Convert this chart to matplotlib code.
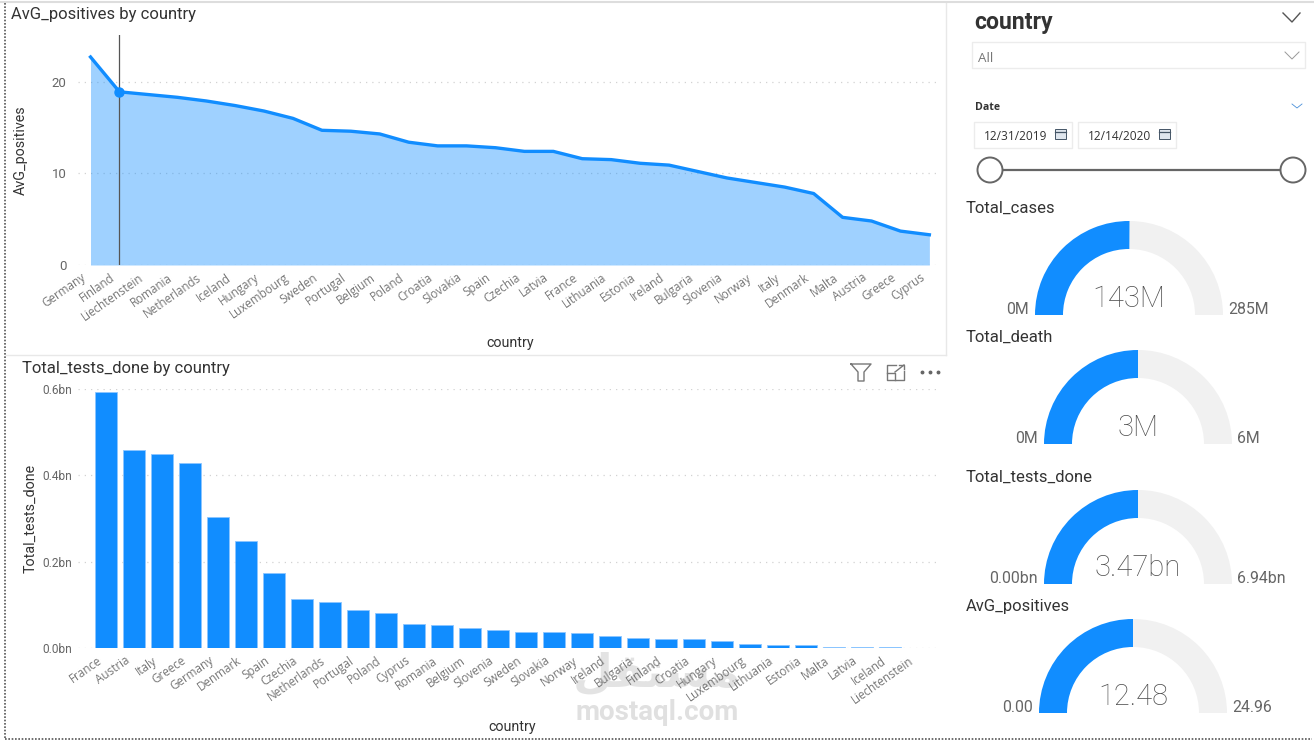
import matplotlib
matplotlib.use('Agg')
import matplotlib.pyplot as plt
from matplotlib.patches import Wedge, Circle, Rectangle
from matplotlib.ticker import FuncFormatter
from matplotlib.transforms import ScaledTranslation

plt.rcParams['font.family'] = ['Roboto', 'DejaVu Sans']

# data
area_countries = ['Germany', 'Finland', 'Liechtenstein', 'Romania', 'Netherlands', 'Iceland',
                  'Hungary', 'Luxembourg', 'Sweden', 'Portugal', 'Belgium', 'Poland', 'Croatia',
                  'Slovakia', 'Spain', 'Czechia', 'Latvia', 'France', 'Lithuania', 'Estonia',
                  'Ireland', 'Bulgaria', 'Slovenia', 'Norway', 'Italy', 'Denmark', 'Malta',
                  'Austria', 'Greece', 'Cyprus']
avg_positives = [22.7, 18.9, 18.6, 18.3, 17.9, 17.4, 16.8, 16.0, 14.7, 14.6, 14.3, 13.4, 13.0,
                 13.0, 12.8, 12.4, 12.4, 11.6, 11.5, 11.1, 10.9, 10.2, 9.5, 9.0, 8.5, 7.8, 5.2,
                 4.8, 3.7, 3.3]

bar_countries = ['France', 'Austria', 'Italy', 'Greece', 'Germany', 'Denmark', 'Spain', 'Czechia',
                 'Netherlands', 'Portugal', 'Poland', 'Cyprus', 'Romania', 'Belgium', 'Slovenia',
                 'Sweden', 'Slovakia', 'Norway', 'Ireland', 'Bulgaria', 'Finland', 'Croatia',
                 'Hungary', 'Luxembourg', 'Lithuania', 'Estonia', 'Malta', 'Latvia', 'Iceland',
                 'Liechtenstein']
tests_done = [0.593, 0.458, 0.449, 0.428, 0.303, 0.248, 0.174, 0.113, 0.106, 0.088, 0.081, 0.056,
              0.053, 0.046, 0.042, 0.037, 0.037, 0.034, 0.027, 0.024, 0.022, 0.022, 0.016, 0.009,
              0.008, 0.006, 0.003, 0.003, 0.002, 0.001]

gauge_names = ['Total_cases', 'Total_death', 'Total_tests_done', 'AvG_positives']
gauge_values = [143, 3, 3.47, 12.48]
gauge_maxes = [285, 6, 6.94, 24.96]
gauge_value_labels = ['143M', '3M', '3.47bn', '12.48']
gauge_min_labels = ['0M', '0M', '0.00bn', '0.00']
gauge_max_labels = ['285M', '6M', '6.94bn', '24.96']

BLUE = '#118DFF'
W, H = 1314, 741


def px_axes(fig, left, top, right, bottom):
    return fig.add_axes([left / W, 1 - bottom / H, (right - left) / W, (bottom - top) / H])


def style_axes(ax, ypad):
    for s in ax.spines.values():
        s.set_visible(False)
    ax.grid(axis='y', linestyle=(0, (1, 4)), color='#d2d2d2', linewidth=0.9)
    ax.set_axisbelow(True)
    ax.tick_params(axis='both', length=0, labelcolor='#666666', labelsize=9.5)
    ax.tick_params(axis='y', pad=ypad)
    ax.tick_params(axis='x', pad=5)
    # rotated labels sit a little left of their tick
    shift = ScaledTranslation(-9.5 / 100, 1 / 100, fig.dpi_scale_trans)
    for lab in ax.get_xticklabels():
        lab.set_rotation(35)
        lab.set_ha('right')
        lab.set_rotation_mode('anchor')
        lab.set_fontfamily(['Open Sans', 'DejaVu Sans'])
        lab.set_fontsize(8.4)
        lab.set_color('#777777')
        lab.set_transform(lab.get_transform() + shift)


fig = plt.figure(figsize=(W / 100, H / 100), dpi=100, facecolor='white')

# overlay in pixel coordinates for the report furniture and the gauges
bg = fig.add_axes([0, 0, 1, 1])
bg.set_xlim(0, W)
bg.set_ylim(H, 0)
bg.axis('off')

# area chart
ax1 = px_axes(fig, 77.5, 35, 939.5, 265)
ax1.set_xlim(-0.45, 29.35)
ax1.set_ylim(0, 25.1)
xs = range(len(area_countries))
ax1.fill_between(xs, avg_positives, 0, color=BLUE, alpha=0.4, linewidth=0)
ax1.plot(xs, avg_positives, color=BLUE, linewidth=2.4, solid_joinstyle='round')
ax1.axvline(1, color='#555555', linewidth=0.9)
ax1.plot([1], [avg_positives[1]], 'o', color=BLUE, markersize=6.5)
ax1.set_xticks(list(xs))
ax1.set_xticklabels(area_countries)
ax1.set_yticks([0, 10, 20])
style_axes(ax1, 8)

# bar chart
ax2 = px_axes(fig, 78, 389, 938, 648)
ax2.set_xlim(-1, 29.71)
ax2.set_ylim(0, 0.6)
ax2.bar(range(len(bar_countries)), tests_done, width=0.79, color=BLUE, edgecolor='#8cc6ff', linewidth=0.6)
ax2.set_xticks(range(len(bar_countries)))
ax2.set_xticklabels(bar_countries)
ax2.set_yticks([0, 0.2, 0.4, 0.6])
ax2.yaxis.set_major_formatter(FuncFormatter(lambda v, p: f'{v:.1f}bn'))
style_axes(ax2, 4)
ax2.tick_params(axis='y', labelsize=8.6)

# chart titles and axis names
bg.text(11, 14, 'AvG_positives by country', fontsize=12, color='#333333', va='center')
bg.text(22, 368, 'Total_tests_done by country', fontsize=12, color='#333333', va='center')
bg.text(20.5, 150, 'AvG_positives', fontsize=10.3, color='#333333', rotation=90, ha='center', va='center')
bg.text(30.5, 518, 'Total_tests_done', fontsize=10.3, color='#333333', rotation=90, ha='center', va='center')
bg.text(510, 343, 'country', fontsize=10.3, color='#333333', ha='center', va='center')
bg.text(512, 727, 'country', fontsize=10.3, color='#333333', ha='center', va='center')

# report borders
bg.plot([946, 946], [3, 355], color='#e8e8e8', linewidth=1)
bg.plot([6, 946], [355, 355], color='#e8e8e8', linewidth=1)
bg.plot([0, W], [2, 2], color='#dddddd', linewidth=1.5)
bg.plot([5, 5], [3, 739], color='#555555', linewidth=1.2, linestyle=(0, (1, 1)))
bg.plot([5, 1312], [739, 739], color='#555555', linewidth=1.2, linestyle=(0, (1, 1)))

# visual header icons on the bar chart
bg.plot([851, 871, 864, 864, 858, 858, 851], [364, 364, 372, 381, 381, 372, 364], color='#777777', linewidth=1)
bg.plot([896, 887, 887, 904, 904], [365, 365, 380, 380, 371], color='#777777', linewidth=1)
bg.plot([887, 895, 895], [373, 373, 380], color='#777777', linewidth=1)
bg.plot([895, 904], [372, 365], color='#777777', linewidth=1)
bg.plot([899, 904, 904], [365, 365, 369], color='#777777', linewidth=1)
bg.plot([922, 930, 938], [372, 372, 372], 'o', color='#666666', markersize=1.8)

# slicers
bg.text(974, 22.5, 'country', fontsize=16.6, fontweight='bold', color='#333333', va='center')
bg.plot([1283, 1292, 1300], [13, 22, 13], color='#555555', linewidth=1)
bg.add_patch(Rectangle((972, 42), 333, 26, facecolor='white', edgecolor='#ececec', linewidth=1))
bg.text(978, 58, 'All', fontsize=9.6, color='#777777', va='center', fontfamily=['Open Sans', 'DejaVu Sans'])
bg.plot([1285, 1292, 1299], [52, 59, 52], color='#999999', linewidth=0.7)
bg.text(975, 108, 'Date', fontsize=7.6, fontweight='bold', color='#333333', va='center', fontfamily=['Open Sans', 'DejaVu Sans'])
bg.plot([1292, 1297, 1302], [104, 108, 104], color='#4a90d9', linewidth=0.6)
for x0, w, label in [(974, 98, '12/31/2019'), (1078, 98, '12/14/2020')]:
    bg.add_patch(Rectangle((x0, 122), w, 26, facecolor='white', edgecolor='#ececec', linewidth=1))
    bg.text(x0 + 10, 136, label, fontsize=8.6, color='#333333', va='center', fontfamily=['Open Sans', 'DejaVu Sans'])
    bg.add_patch(Rectangle((x0 + 81, 129), 11, 10, facecolor='#dfe6ee', edgecolor='#445566', linewidth=0.7))
    bg.plot([x0 + 81, x0 + 92], [132, 132], color='#445566', linewidth=0.9)
bg.plot([1000, 1283], [170, 170], color='#666666', linewidth=1.6)
for cx in (990, 1293):
    bg.add_patch(Circle((cx, 170), 12.5, facecolor='white', edgecolor='#666666', linewidth=1.4, zorder=3))

# gauges
gauge_centers = [(1129, 315), (1138, 444), (1138, 584), (1133, 713)]
title_pos = [(966, 208), (966, 337), (966, 477), (966, 606)]
R_OUT, R_IN = 94, 66
for i, name in enumerate(gauge_names):
    cx, cy = gauge_centers[i]
    # y runs downward on this overlay, so the upper half is 180..360 degrees
    split = 180 + 180 * gauge_values[i] / gauge_maxes[i]
    bg.add_patch(Wedge((cx, cy), R_OUT, split, 360, width=R_OUT - R_IN, facecolor='#f1f1f1', edgecolor='none'))
    bg.add_patch(Wedge((cx, cy), R_OUT, 180, split, width=R_OUT - R_IN, facecolor=BLUE, edgecolor='none'))
    bg.text(title_pos[i][0], title_pos[i][1] + 0.5, name, fontsize=12, color='#333333', va='center')
    bg.text(cx, cy - 16, gauge_value_labels[i], fontsize=21, fontweight='light', color='#4f4f4f', ha='center', va='center')
    bg.text(cx - R_OUT - 6, cy - 5.5, gauge_min_labels[i], fontsize=11.4, color='#666666', ha='right', va='center')
    bg.text(cx + R_OUT + 5, cy - 5.5, gauge_max_labels[i], fontsize=11.4, color='#666666', ha='left', va='center')

# watermark of the screenshot
bg.text(657, 674, '\uFEDE\uFED8\uFE98\uFEB4\uFEE3', fontsize=33, fontweight='bold', color='#bbbbbb', alpha=0.4,
        ha='center', va='center', zorder=5, fontfamily=['DejaVu Sans'])
bg.text(657, 713, 'mostaql.com', fontsize=20, fontweight='bold', color='#e0e0e0', ha='center', va='center', zorder=5)

fig.savefig('out.png', dpi=100)
